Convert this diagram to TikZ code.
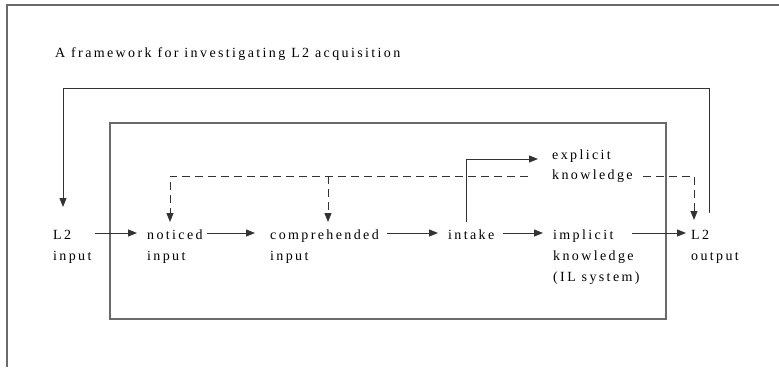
\documentclass[tikz,border=0pt]{standalone}
\usepackage{fontspec}
\setmainfont{Liberation Serif}[LetterSpace=17]
\usetikzlibrary{arrows.meta}
\definecolor{ln}{HTML}{333333}
\definecolor{fr}{HTML}{6A6A6A}
\begin{document}
\begin{tikzpicture}[x=1pt,y=-1pt,
  lbl/.style={anchor=north west, inner sep=0pt, align=left, font=\fontsize{14}{21}\selectfont},
  arr/.style={draw=ln, line width=1pt, -{Triangle[length=9pt,width=7pt]}},
  dsh/.style={arr, dash pattern=on 8pt off 5pt},
  framebox/.style={draw=fr, line width=1.4pt}]
\useasboundingbox (0,0) rectangle (779,367);
% outer frame (top and left)
\draw[framebox] (7,367) -- (7,5) -- (779,5);
\node[anchor=base west, inner sep=0pt, font=\fontsize{14}{16}\selectfont] (title) at (55,57) {A framework for investigating L2 acquisition};
% inner box
\draw[framebox, line width=1.3pt] (110,123) rectangle (666,319);
% labels
\node[lbl] (l2in) at (53,230) {L2\\input};
\node[lbl] (noticed) at (147,230) {noticed\\input};
\node[lbl] (compr) at (270,230) {comprehended\\input};
\node[lbl] (intake) at (448,230) {intake};
\node[lbl] (implicit) at (553,230) {implicit\\knowledge\\(IL system)};
\node[lbl] (l2out) at (691,230) {L2\\output};
\node[lbl, font=\fontsize{14}{20}\selectfont] (explicit) at (552,150) {explicit\\knowledge};
% helper coordinates
\coordinate (row) at (0,233);
\coordinate (dl) at (0,176);
\coordinate (er) at (0,159);
\coordinate (fbl) at (63,88);
% main chain
\draw[arr] ([xshift=3pt]l2in.east |- row) -- ([xshift=-10pt]noticed.west |- row);
\draw[arr] ([xshift=4pt]noticed.east |- row) -- ([xshift=-15pt]compr.west |- row);
\draw[arr] ([xshift=8pt]compr.east |- row) -- ([xshift=-10pt]intake.west |- row);
\draw[arr] ([xshift=8pt]intake.east |- row) -- ([xshift=-10pt]implicit.west |- row);
\draw[arr] ([xshift=79pt]implicit.west |- row) -- ([xshift=-5pt]l2out.west |- row);
% intake to explicit
\draw[arr] ([xshift=18pt,yshift=8pt]intake.north west) |- ([xshift=-14pt]explicit.west |- er);
% dashed from explicit knowledge
\draw[dsh] ([xshift=-24pt]explicit.west |- dl) -| ([xshift=23pt,yshift=8pt]noticed.north west);
\draw[dsh] ([xshift=58pt]compr.north west |- dl) -- ([xshift=58pt,yshift=8pt]compr.north west);
\draw[dsh] ([xshift=91pt]explicit.west |- dl) -| ([xshift=3pt,yshift=10pt]l2out.north west);
% feedback loop
\draw[arr] ([xshift=18pt,yshift=17pt]l2out.north west) |- (fbl) -- ([xshift=10pt,yshift=23pt]l2in.north west);
\end{tikzpicture}
\end{document}
